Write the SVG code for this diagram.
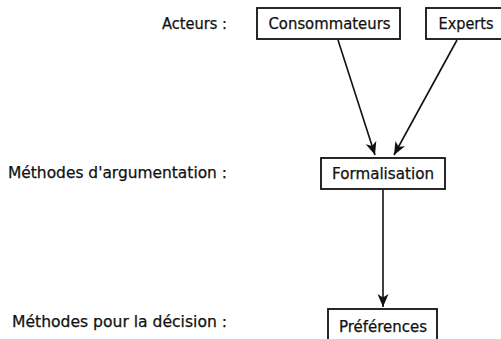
<svg xmlns="http://www.w3.org/2000/svg" width="501" height="339" viewBox="0 0 501 339">
<style>
text{font-family:"DejaVu Sans",sans-serif;font-size:15px;fill:#111;stroke:#111;stroke-width:0.25}
.box{fill:#fff;stroke:#111;stroke-width:1.8}
.c{text-anchor:middle}
.l{text-anchor:end}
.e{fill:none;stroke:#111;stroke-width:1.6}
</style>
<defs>
<marker id="ah" markerWidth="16" markerHeight="12" refX="13" refY="6" orient="auto" markerUnits="userSpaceOnUse">
<path d="M0,0.5 L13,6 L0,11.5 L3.5,6 Z" fill="#111"/>
</marker>
</defs>
<g id="labels">
<text class="l" x="227" y="29" textLength="65" lengthAdjust="spacingAndGlyphs">Acteurs :</text>
<text class="l" x="227" y="178" textLength="219" lengthAdjust="spacingAndGlyphs">Méthodes d'argumentation :</text>
<text class="l" x="227" y="327" textLength="215" lengthAdjust="spacingAndGlyphs">Méthodes pour la décision :</text>
</g>
<g id="connectors">
<line class="e" x1="338" y1="40" x2="375" y2="155" marker-end="url(#ah)"/>
<line class="e" x1="457" y1="40" x2="394" y2="155" marker-end="url(#ah)"/>
<line class="e" x1="383" y1="190" x2="383" y2="307" marker-end="url(#ah)"/>
</g>
<g id="consommateurs">
<rect class="box" x="257" y="8" width="143" height="31"/>
<text class="c" x="329.5" y="29" textLength="122" lengthAdjust="spacingAndGlyphs">Consommateurs</text>
</g>
<g id="experts">
<rect class="box" x="426" y="8" width="80" height="31"/>
<text class="c" x="466" y="29" textLength="55" lengthAdjust="spacingAndGlyphs">Experts</text>
</g>
<g id="formalisation">
<rect class="box" x="321" y="158" width="124" height="31"/>
<text class="c" x="383" y="179" textLength="102" lengthAdjust="spacingAndGlyphs">Formalisation</text>
</g>
<g id="preferences">
<rect class="box" x="328" y="309" width="109" height="34"/>
<text class="c" x="383" y="332" textLength="88" lengthAdjust="spacingAndGlyphs">Préférences</text>
</g>
</svg>
